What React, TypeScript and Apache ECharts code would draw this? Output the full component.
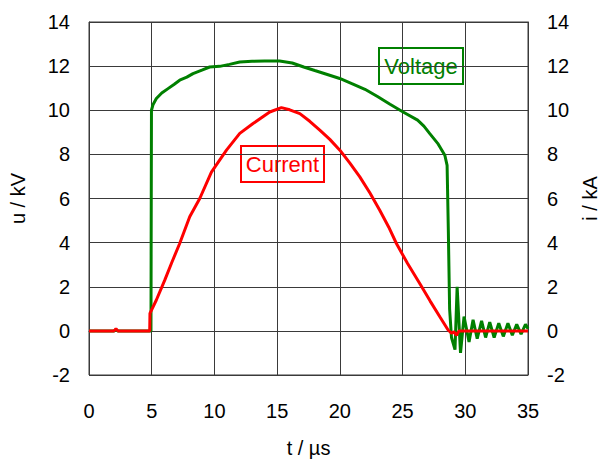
import React, { useEffect, useRef } from "react";
import * as echarts from "echarts";

const xTicks = [0, 5, 10, 15, 20, 25, 30, 35];
const yTicks = [-2, 0, 2, 4, 6, 8, 10, 12, 14];

const voltageT = [
  0, 2.0, 2.15, 2.3, 4.94, 4.98, 5.1, 5.37, 5.8, 6.3, 6.8, 7.23, 7.8, 8.29, 9.0, 9.62, 10.42, 11.2, 12.02, 13.0,
  14.0, 15.2, 16.2, 17.12, 18.0, 19.0, 19.99, 21.0, 22.0, 23.0, 24.0, 25.04, 26.2, 26.7, 27.17, 27.8,
  28.37, 28.55, 28.65, 28.75, 28.9, 29.18, 29.35, 29.62, 29.9, 30.3, 30.62, 30.95, 31.3, 31.62, 31.95,
  32.3, 32.67, 33.03, 33.4, 33.75, 34.1, 34.45, 34.8, 35,
];
const voltageU = [
  0, 0, 0.05, 0, 0, 10.0, 10.25, 10.53, 10.78, 10.98, 11.18, 11.36, 11.5, 11.66, 11.82, 11.96, 11.99, 12.08, 12.19, 12.22,
  12.23, 12.23, 12.14, 11.96, 11.8, 11.62, 11.44, 11.2, 10.95, 10.62, 10.27, 9.92, 9.55, 9.28, 8.94, 8.5,
  7.96, 7.5, 4.5, 1.0, -0.3, -0.85, 2.0, -1.0, 0.65, -0.5, 0.5, -0.35, 0.45, -0.3, 0.4,
  -0.3, 0.35, -0.25, 0.35, -0.2, 0.3, -0.15, 0.3, 0.1,
];

const currentT = [
  0, 2.0, 2.15, 2.3, 4.84, 4.86, 5.37, 6.04, 6.6, 7.23, 8.03, 8.83, 9.76, 10.96, 12.02, 13.08, 14.41, 15.34,
  16.0, 16.81, 17.6, 18.4, 19.2, 20.0, 20.8, 21.59, 22.4, 23.18, 23.9, 24.51, 25.4, 26.37, 27.2, 27.97,
  28.63, 28.9, 29.1, 29.3, 29.5, 35,
];
const currentI = [
  0, 0, 0.1, 0, 0, 0.79, 1.4, 2.3, 3.1, 3.96, 5.17, 6.0, 7.2, 8.19, 8.95, 9.4, 9.92, 10.12,
  10.02, 9.85, 9.5, 9.1, 8.68, 8.19, 7.6, 6.98, 6.25, 5.47, 4.7, 3.96, 3.05, 2.15, 1.35, 0.64,
  0.04, -0.1, -0.05, -0.2, 0, 0,
];

const FONT = "'Liberation Sans', Arial, sans-serif";

export default function App() {
  const ref = useRef<HTMLDivElement>(null);
  useEffect(() => {
    if (!ref.current) return;
    const chart = echarts.init(ref.current, null, { renderer: "svg" });
    const gridColor = "#3a3a3a";
    const yAxisBase = {
      type: "value" as const,
      min: yTicks[0],
      max: yTicks[yTicks.length - 1],
      interval: 2,
      nameLocation: "middle" as const,
      nameRotate: 90,
      nameTextStyle: { fontSize: 20, color: "#000", fontFamily: FONT },
      axisLine: { show: true, lineStyle: { color: gridColor, width: 1 } },
      axisTick: { show: false },
      axisLabel: { fontSize: 20, color: "#000", fontFamily: FONT, margin: 19 },
    };
    chart.setOption({
      animation: false,
      backgroundColor: "#fff",
      grid: {
        left: 89, right: 73, top: 22, bottom: 84,
        containLabel: false, outerBoundsMode: "none",
        show: true, borderColor: gridColor, borderWidth: 1,
      },
      xAxis: {
        type: "value",
        min: xTicks[0],
        max: xTicks[xTicks.length - 1],
        interval: 5,
        name: "t / µs",
        nameLocation: "middle",
        nameGap: 63,
        nameTextStyle: { fontSize: 20, color: "#000", fontFamily: FONT },
        axisLine: { show: true, lineStyle: { color: gridColor, width: 1 } },
        axisTick: { show: false },
        axisLabel: { fontSize: 20, color: "#000", fontFamily: FONT, margin: 26 },
        splitLine: { show: true, lineStyle: { color: gridColor, width: 1 } },
      },
      yAxis: [
        {
          ...yAxisBase,
          position: "left",
          name: "u / kV",
          nameGap: 61,
          splitLine: { show: true, lineStyle: { color: gridColor, width: 1 } },
        },
        {
          ...yAxisBase,
          position: "right",
          name: "i / kA",
          nameGap: 51,
          splitLine: { show: false },
        },
      ],
      series: [
        {
          name: "Voltage",
          type: "line",
          yAxisIndex: 0,
          showSymbol: false,
          symbol: "none",
          data: voltageT.map((t, i) => [t, voltageU[i]]),
          lineStyle: { color: "#008000", width: 3 },
          itemStyle: { color: "#008000" },
          z: 2,
        },
        {
          name: "Current",
          type: "line",
          yAxisIndex: 1,
          showSymbol: false,
          symbol: "none",
          data: currentT.map((t, i) => [t, currentI[i]]),
          lineStyle: { color: "#ff0000", width: 3 },
          itemStyle: { color: "#ff0000" },
          z: 3,
        },
      ],
      graphic: [
        {
          type: "group",
          left: 378,
          top: 47,
          z: 10,
          children: [
            { type: "rect", shape: { x: 0, y: 0, width: 84, height: 36 }, style: { fill: "#fff", stroke: "#008000", lineWidth: 2 } },
            { type: "text", x: 42, y: 18, style: { text: "Voltage", fill: "#008000", font: `22px ${FONT}`, align: "center", verticalAlign: "middle" } },
          ],
        },
        {
          type: "group",
          left: 240,
          top: 145,
          z: 10,
          children: [
            { type: "rect", shape: { x: 0, y: 0, width: 83, height: 36 }, style: { fill: "#fff", stroke: "#ff0000", lineWidth: 2 } },
            { type: "text", x: 41.5, y: 18, style: { text: "Current", fill: "#ff0000", font: `22px ${FONT}`, align: "center", verticalAlign: "middle" } },
          ],
        },
      ],
    });
    return () => chart.dispose();
  }, []);
  return (
    <div
      ref={ref}
      style={{ position: "fixed", left: 0, top: 0, width: 601, height: 459, background: "#fff" }}
    />
  );
}
